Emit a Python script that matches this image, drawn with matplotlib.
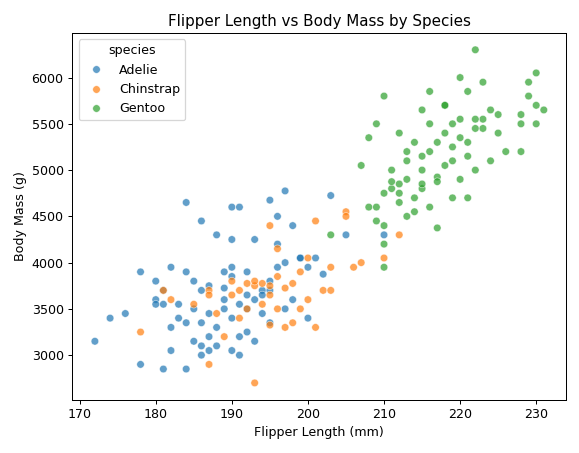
import matplotlib
matplotlib.use('Agg')
import matplotlib.pyplot as plt
import pandas as pd
import seaborn as sns

# values (approximate)
adelie_flipper = [172, 174, 176, 178, 178, 180, 180, 181, 181, 182, 182, 183, 184, 184, 184, 185, 185, 186, 186, 186,
                  187, 187, 187, 188, 188, 189, 189, 190, 190, 190, 190, 191, 191, 191, 192, 192, 193, 193, 194, 194,
                  195, 195, 195, 196, 196, 197, 197, 198, 198, 199, 200, 201, 202, 203, 205, 210, 184, 186, 189, 190,
                  193, 191, 185, 188, 195, 181, 183, 187, 190, 192, 194, 196, 180, 182, 186, 189, 192, 197, 199, 200]
adelie_mass = [3150, 3400, 3450, 2900, 3900, 3600, 3800, 2850, 3700, 3950, 3300, 3550, 2850, 3900, 4650, 3500, 3800, 4450, 3100, 3700,
               3200, 3450, 3750, 3300, 4300, 3600, 3900, 3050, 3400, 3950, 4600, 4600, 3550, 3200, 3900, 3250, 3150, 4250, 3450, 3700,
               4675, 3800, 3350, 4500, 3950, 4775, 3500, 4400, 3600, 4050, 3400, 4050, 3875, 4725, 4300, 4300, 3350, 3000, 3725, 4250,
               3600, 3000, 3150, 3100, 3700, 3550, 3400, 3050, 3850, 3500, 3650, 4200, 3550, 3050, 3350, 3500, 3650, 4000, 4050, 3950]
chinstrap_flipper = [178, 181, 182, 185, 187, 187, 188, 190, 190, 191, 192, 193, 193, 194, 195, 195, 195, 196, 196, 197,
                     197, 198, 198, 199, 200, 200, 201, 201, 202, 203, 205, 205, 206, 207, 210, 212, 191, 193, 196, 187,
                     189, 192, 194, 199, 195, 203]
chinstrap_mass = [3250, 3700, 3600, 3550, 2900, 3700, 3450, 3650, 3800, 3700, 3500, 2700, 3750, 3775, 4400, 3650, 3325, 3500, 4150, 3300,
                  3725, 3350, 3775, 3500, 3600, 4050, 3300, 4450, 3700, 3950, 4550, 4500, 3950, 4000, 4050, 4300, 3400, 3800, 3850, 3650,
                  3200, 3775, 3550, 3900, 3750, 3700]
gentoo_flipper = [203, 207, 208, 208, 209, 209, 210, 210, 210, 210, 211, 211, 212, 212, 212, 213, 213, 213, 214, 214,
                  215, 215, 215, 215, 216, 216, 216, 217, 217, 217, 218, 218, 218, 219, 219, 220, 220, 220, 221, 221,
                  222, 222, 222, 223, 223, 224, 224, 225, 226, 228, 228, 229, 229, 230, 230, 230, 231, 210, 212, 214,
                  215, 216, 218, 219, 220, 221, 222, 225, 209, 211, 213, 217, 219, 221, 223, 228]
gentoo_mass = [4300, 5050, 5350, 4600, 5500, 4450, 5800, 3950, 4200, 4750, 4800, 5000, 5400, 4650, 4850, 5200, 4500, 4900, 5300, 4700,
               5650, 5150, 4800, 5000, 5500, 5850, 4600, 4375, 5300, 4925, 5700, 5050, 5400, 5250, 4700, 6000, 5550, 4900, 5850, 5300,
               6300, 5000, 5450, 5950, 5550, 5100, 5650, 5400, 5200, 5600, 5500, 5950, 5800, 6050, 5500, 5700, 5650, 4400, 4750, 4550,
               4850, 5200, 5700, 5100, 5350, 4700, 5550, 5600, 4600, 4875, 5100, 4875, 5500, 5150, 5450, 5200]

df = pd.DataFrame({
    'flipper': adelie_flipper + chinstrap_flipper + gentoo_flipper,
    'mass': adelie_mass + chinstrap_mass + gentoo_mass,
    'species': ['Adelie'] * len(adelie_flipper) + ['Chinstrap'] * len(chinstrap_flipper) + ['Gentoo'] * len(gentoo_flipper),
})

fig, ax = plt.subplots(figsize=(6.4, 5.0), dpi=90.6)
sns.scatterplot(data=df, x='flipper', y='mass', hue='species', alpha=0.7, ax=ax)
ax.set_title('Flipper Length vs Body Mass by Species')
ax.set_xlabel('Flipper Length (mm)')
ax.set_ylabel('Body Mass (g)')
fig.tight_layout()
fig.savefig('out.png')
